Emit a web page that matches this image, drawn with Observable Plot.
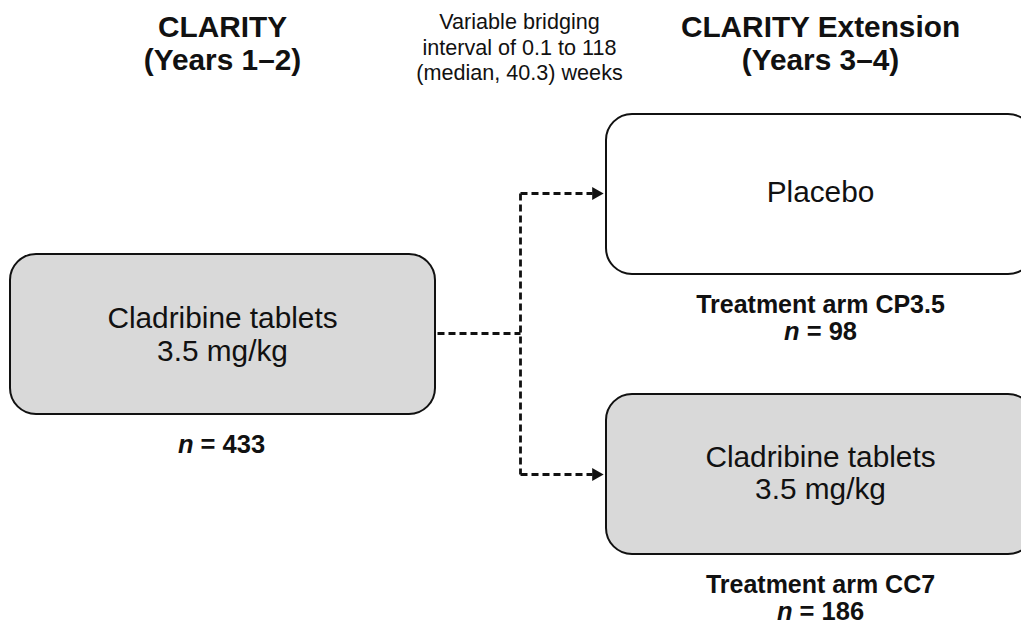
<!DOCTYPE html>
<html>
<head>
<meta charset="utf-8">
<script src="https://cdn.jsdelivr.net/npm/d3@7"></script>
<script src="https://cdn.jsdelivr.net/npm/@observablehq/plot@0.6"></script>
<style>
  html, body { margin: 0; padding: 0; background: #fff; }
  #chart { width: 1021px; height: 628px; overflow: hidden; }
</style>
</head>
<body>
<div id="chart"></div>
<script>
// ---- content ----
const headerLabels = ["CLARITY", "(Years 1–2)", "CLARITY Extension", "(Years 3–4)"];
const bridgingLines = ["Variable bridging", "interval of 0.1 to 118", "(median, 40.3) weeks"];
const boxNames = ["CLARITY", "CP3.5", "CC7"];
const boxTreatments = [["Cladribine tablets", "3.5 mg/kg"], ["Placebo"], ["Cladribine tablets", "3.5 mg/kg"]];
const armLabels = ["", "Treatment arm CP3.5", "Treatment arm CC7"];
const armN = [433, 98, 186];

// ---- diagram layout (pixel coordinates of the flow diagram) ----
const boxLayout = [
  {x1: 10, x2: 435, y1: 254, y2: 414, fill: "#d9d9d9"},
  {x1: 606, x2: 1034, y1: 114, y2: 274, fill: "#ffffff"},
  {x1: 606, x2: 1034, y1: 394, y2: 554, fill: "#d9d9d9"}
];
const headerPos = [{x: 222, y: 27}, {x: 222, y: 60}, {x: 820, y: 27}, {x: 820, y: 60}];
const bridgingPos = [{x: 519, y: 21.3}, {x: 519, y: 47.8}, {x: 519, y: 73}];
const treatmentPos = [[{x: 222, y: 317.8}, {x: 222, y: 350.5}], [{x: 820, y: 192.2}], [{x: 820, y: 456.5}, {x: 820, y: 488.8}]];
const armLabelPos = [null, {x: 820, y: 304}, {x: 820, y: 584}];
const nPos = [{x: 221, y: 444.5}, {x: 820, y: 331}, {x: 820, y: 611}];
const connectors = [
  {x1: 437, y1: 333, x2: 520, y2: 333},
  {x1: 520, y1: 193, x2: 520, y2: 474},
  {x1: 520, y1: 193, x2: 592, y2: 193},
  {x1: 520, y1: 474, x2: 592, y2: 474}
];
const arrowHeads = [{x: 595.5, y: 193}, {x: 595.5, y: 474}];

// ---- build tables ----
const boxes = boxNames.map((name, i) => ({name, ...boxLayout[i]}));
const headers = headerLabels.map((text, i) => ({text, ...headerPos[i]}));
const bridging = bridgingLines.map((text, i) => ({text, ...bridgingPos[i]}));
const treatments = boxTreatments.flatMap((lines, i) => lines.map((text, j) => ({text, ...treatmentPos[i][j]})));
const arms = armLabels.map((text, i) => ({text, ...(armLabelPos[i] || {})})).filter(d => d.text);
const ns = armN.map((n, i) => ({text: `n = ${n}`, ...nPos[i]}));

const font = "'Liberation Sans', Arial, Helvetica, sans-serif";

const chart = Plot.plot({
  width: 1021,
  height: 628,
  margin: 0,
  x: {domain: [0, 1021], range: [0, 1021], axis: null},
  y: {domain: [0, 628], range: [0, 628], axis: null},
  style: {fontFamily: font, background: "#fff", color: "#000"},
  marks: [
    Plot.rect(boxes, {x1: "x1", x2: "x2", y1: "y1", y2: "y2", fill: "fill", stroke: "#111", strokeWidth: 2, rx: 26}),
    Plot.link(connectors, {x1: "x1", y1: "y1", x2: "x2", y2: "y2", stroke: "#111", strokeWidth: 2.8, strokeDasharray: "7,4"}),
    Plot.dot(arrowHeads, {x: "x", y: "y", symbol: "triangle", r: 4.9, rotate: 90, fill: "#111", stroke: "none"}),
    Plot.text(headers, {x: "x", y: "y", text: "text", fontSize: 29.8, fontWeight: "bold", fill: "#111"}),
    Plot.text(bridging, {x: "x", y: "y", text: "text", fontSize: 21.6, fill: "#111"}),
    Plot.text(treatments, {x: "x", y: "y", text: "text", fontSize: 29.8, fill: "#111"}),
    Plot.text(arms, {x: "x", y: "y", text: "text", fontSize: 25, fontWeight: "bold", fill: "#111"}),
    Plot.text(ns, {x: "x", y: "y", text: "text", fontSize: 25.5, fontWeight: "bold", fill: "#111"})
  ]
});

// italic "n" in the sample-size labels
d3.select(chart).selectAll("text").each(function() {
  const t = this.textContent;
  if (/^n = \d+$/.test(t)) {
    const rest = t.slice(1);
    const sel = d3.select(this);
    sel.text(null);
    sel.append("tspan").attr("font-style", "italic").text("n");
    sel.append("tspan").text(rest);
  }
});

document.getElementById("chart").appendChild(chart);
</script>
</body>
</html>
